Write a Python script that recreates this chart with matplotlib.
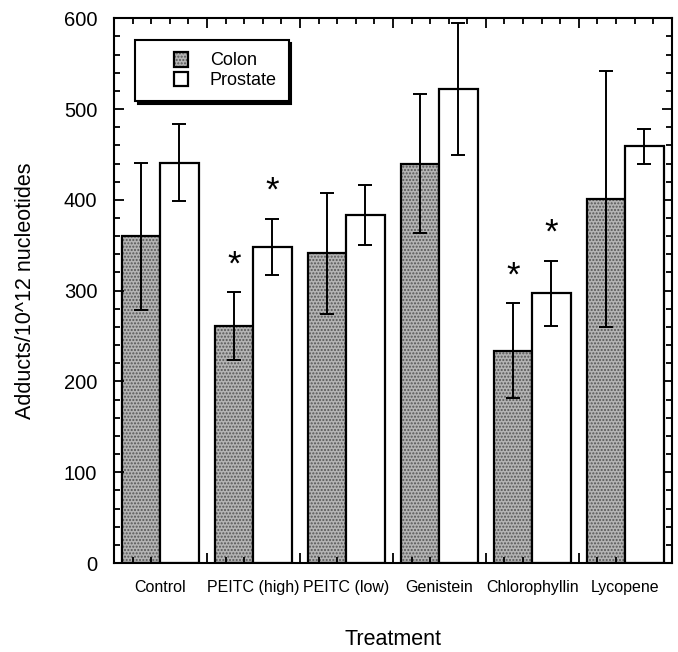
import matplotlib
matplotlib.use("Agg")
import matplotlib.pyplot as plt
import matplotlib.patches as mpatches
from matplotlib.container import BarContainer
from matplotlib.legend_handler import HandlerPatch, update_from_first_child
import numpy as np

treatments = ["Control", "PEITC (high)", "PEITC (low)", "Genistein", "Chlorophyllin", "Lycopene"]
colon = [360, 261, 341, 440, 234, 401]
colon_err = [81, 37, 67, 77, 52, 141]
prostate = [441, 348, 383, 522, 297, 459]
prostate_err = [42, 31, 33, 73, 36, 19]
colon_star = [False, True, False, False, True, False]
prostate_star = [False, True, False, False, True, False]

plt.rcParams['font.family'] = ['Liberation Sans', 'DejaVu Sans']
plt.rcParams['hatch.linewidth'] = 1.0

fig = plt.figure(figsize=(6.78, 6.52), dpi=100)
ax = fig.add_axes([0.168, 0.1365, 0.823, 0.8355])

x = np.arange(len(treatments)) + 0.5
w = 0.41

# stippled fill for colon, outline drawn on top
fill = ax.bar(x - w / 2, colon, w, color='#b4b4b4', hatch='.....', edgecolor='#555555', linewidth=0, zorder=1)
c_edge = ax.bar(x - w / 2, colon, w, fill=False, edgecolor='black', linewidth=1.6, zorder=2)
p_bars = ax.bar(x + w / 2, prostate, w, color='white', edgecolor='black', linewidth=1.6, zorder=2)

ax.errorbar(x - w / 2, colon, yerr=colon_err, fmt='none', ecolor='black', elinewidth=1.4, capsize=5, capthick=1.4, zorder=3)
ax.errorbar(x + w / 2, prostate, yerr=prostate_err, fmt='none', ecolor='black', elinewidth=1.4, capsize=5, capthick=1.4, zorder=3)

for i in range(len(treatments)):
    if colon_star[i]:
        ax.text(x[i] - w / 2, colon[i] + colon_err[i] + 12, '*', ha='center', va='bottom', fontsize=25)
    if prostate_star[i]:
        ax.text(x[i] + w / 2, prostate[i] + prostate_err[i] + 12, '*', ha='center', va='bottom', fontsize=25)

ax.set_xlim(0, 6)
ax.set_ylim(0, 600)
ax.set_yticks(np.arange(0, 601, 100))
ax.set_yticks(np.arange(0, 601, 20), minor=True)
ax.set_xticks(np.arange(0, 7, 1))
ax.set_xticks(np.arange(0, 6.01, 0.2), minor=True)
ax.set_xticklabels([])
ax.tick_params(axis='both', which='both', direction='in', top=True, right=True, width=1.3)
ax.tick_params(axis='both', which='major', length=7)
ax.tick_params(axis='both', which='minor', length=4)
ax.tick_params(axis='y', labelsize=14.5, pad=12)

for i, name in enumerate(treatments):
    ax.text(x[i], -19, name, ha='center', va='top', fontsize=11.5)

for s in ax.spines.values():
    s.set_linewidth(1.5)

ax.set_ylabel('Adducts/10^12 nucleotides', fontsize=15.5, labelpad=20)
ax.set_xlabel('Treatment', fontsize=15.5, labelpad=44)


def square(legend, orig_handle, xdescent, ydescent, width, height, fontsize):
    s = height * 1.05
    return mpatches.Rectangle((width - s - xdescent, -ydescent - 0.05 * height), s, s)


handler = HandlerPatch(patch_func=square, update_func=update_from_first_child)
leg = ax.legend([(fill, c_edge), p_bars], ['Colon', 'Prostate'], loc='upper left',
                bbox_to_anchor=(0.0376, 0.9596), fontsize=13, fancybox=False,
                shadow={'color': 'black', 'alpha': 1}, framealpha=1,
                handler_map={BarContainer: handler},
                handlelength=2.3, handleheight=0.8, handletextpad=1.2,
                borderpad=0.65, labelspacing=0.15, borderaxespad=0)
leg.get_frame().set_edgecolor('black')
leg.get_frame().set_linewidth(1.5)

plt.savefig('out.png', dpi=100)
plt.close()
